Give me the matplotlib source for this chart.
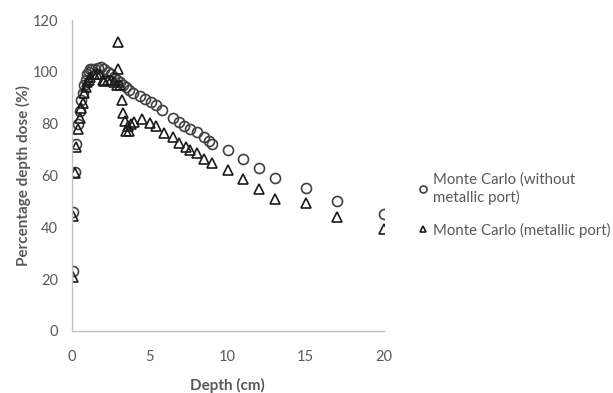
import matplotlib.pyplot as plt

# Monte Carlo without metallic port (circles)
depth_nop = [0.1, 0.1, 0.2, 0.3, 0.4, 0.5, 0.6, 0.7, 0.8, 0.9, 1.0, 1.1, 1.2, 1.3, 1.5,
             1.7, 1.9, 2.1, 2.3, 2.5, 2.7, 2.9, 3.1, 3.3, 3.5, 3.7, 3.9, 4.4, 4.7, 5.1,
             5.4, 5.8, 6.5, 6.9, 7.2, 7.6, 8.0, 8.5, 8.8, 9.0, 10, 11, 12, 13, 15, 17, 20]
pdd_nop = [23, 46, 61.5, 72, 80, 85, 89, 92, 95, 97, 99, 100, 101, 101, 101,
           101.5, 102, 101, 100, 99, 98, 97, 96, 95, 94, 93, 92, 90.7, 89.6, 88.4,
           87.3, 85.3, 82, 80.7, 79.2, 78, 76.8, 74.9, 73.4, 72, 70, 66.5, 63, 59, 55.2, 50, 45]

# Monte Carlo with metallic port (triangles)
depth_port = [0.1, 0.1, 0.2, 0.3, 0.4, 0.5, 0.6, 0.7, 0.8, 0.9, 1.0, 1.1, 1.2, 1.4, 1.6,
              1.8, 2.0, 2.1, 2.3, 2.5, 2.7, 2.9, 2.95, 2.95, 3.1, 3.2, 3.3, 3.4, 3.5, 3.6,
              3.7, 3.8, 4.0, 4.5, 5.0, 5.4, 5.9, 6.5, 6.9, 7.3, 7.6, 8.0, 8.5, 9.0,
              10, 11, 12, 13, 15, 17, 20]
pdd_port = [21, 44.5, 61, 71, 78, 82, 86, 88, 92, 94, 96, 97, 98, 99, 99,
            99, 97, 96.5, 97, 97, 96, 95, 111.5, 101, 95, 89, 84, 81, 77, 79,
            77, 80, 80.7, 81.9, 80.3, 79.2, 76.4, 74.9, 72.6, 71, 69.9, 68.7, 66.4, 64.9,
            62, 58.7, 54.8, 51, 49.4, 44, 39.4]

plt.rcParams['font.family'] = ['Lato', 'DejaVu Sans']
grey = '#595959'

fig = plt.figure(figsize=(6.13, 3.93), dpi=100)
ax = fig.add_axes([0.117, 0.158, 0.509, 0.791])

ax.plot(depth_nop, pdd_nop, linestyle='none', marker='o', markersize=7.2,
        markerfacecolor='none', markeredgecolor='#404040', markeredgewidth=1.2,
        label='Monte Carlo (without\nmetallic port)')
ax.plot(depth_port, pdd_port, linestyle='none', marker='^', markersize=6.8,
        markerfacecolor='none', markeredgecolor='#1a1a1a', markeredgewidth=1.2,
        label='Monte Carlo (metallic port)')

ax.set_xlim(0, 20)
ax.set_ylim(0, 120)
ax.set_xticks(range(0, 21, 5))
ax.set_yticks(range(0, 121, 20))
ax.tick_params(length=0, labelsize=10.5, colors=grey)
ax.tick_params(axis='x', pad=14)
ax.tick_params(axis='y', pad=10)
for s in ['top', 'right']:
    ax.spines[s].set_visible(False)
for s in ['left', 'bottom']:
    ax.spines[s].set_color('#bfbfbf')
    ax.spines[s].set_linewidth(1)

ax.set_xlabel('Depth (cm)', fontsize=11, fontweight='bold', color=grey, labelpad=10)
ax.set_ylabel('Percentage depth dose (%)', fontsize=11, fontweight='bold', color=grey, labelpad=1)

leg = fig.legend(loc='center left', bbox_to_anchor=(0.66, 0.478), frameon=False,
                 fontsize=10.8, handlelength=0.6, handletextpad=0.4, labelspacing=1.2,
                 markerscale=0.7)
for t in leg.get_texts():
    t.set_color(grey)

fig.savefig('out.png', dpi=100)
